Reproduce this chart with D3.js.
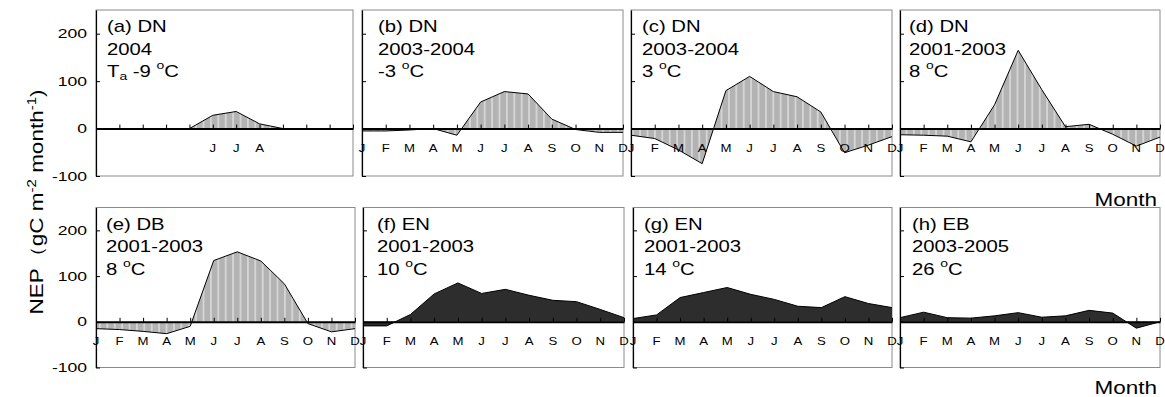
<!DOCTYPE html>
<html><head><meta charset="utf-8">
<script src="https://cdn.jsdelivr.net/npm/d3@7"></script>
<style>
html,body{margin:0;padding:0;background:#fff;}
svg{display:block;font-family:"Liberation Sans",Arial,sans-serif;}
</style>
</head><body>
<svg id="chart" width="1165" height="397"></svg>
<script>
// Monthly NEP for eight forest sites (gC m-2 month-1)
const monthLabels = ["J","F","M","A","M","J","J","A","S","O","N","D"];
const panelCodes = ["(a) DN","(b) DN","(c) DN","(d) DN","(e) DB","(f) EN","(g) EN","(h) EB"];
const panelYears = ["2004","2003-2004","2003-2004","2001-2003","2001-2003","2001-2003","2001-2003","2003-2005"];
const panelTemps = ["-9","-3","3","8","8","10","14","26"];

const nepA = [0, 0, 0, 0, 0, 28, 36, 10, 0, 0, 0, 0];
const nepB = [-5, -5, -3, 0, -14, 56, 78, 73, 20, -2, -8, -8];
const nepC = [-14, -21, -45, -74, 80, 110, 78, 67, 35, -51, -35, -17];
const nepD = [-13, -14, -16, -28, 50, 165, 82, 4, 9, -12, -37, -18];
const nepE = [-15, -17, -21, -26, -10, 134, 153, 133, 83, -4, -22, -15];
const nepF = [-9, -9, 16, 61, 85, 62, 71, 58, 47, 44, 27, 9];
const nepG = [7, 15, 53, 64, 75, 60, 49, 34, 31, 55, 40, 31];
const nepH = [9, 21, 9, 8, 13, 20, 10, 13, 25, 19, -14, 0];
const nepSeries = [nepA, nepB, nepC, nepD, nepE, nepF, nepG, nepH];

// panel (a) only labels the growing-season months
const labelledMonthsA = [5, 6, 7];

const yTicks = [-100, 0, 100, 200];
const yTickLabels = ["-100", "0", "100", "200"];
const yDomain = [-100, 250];

// layout
const colLeft = [[96, 362, 631, 900], [96, 363, 633, 900]];
const colRight = [[353, 623, 892, 1160], [355, 624, 892, 1160]];
const rowTop = [10, 207.5];
const rowBottom = [176, 367.5];
const titleDx = [11, 16, 11, 9, 10, 14, 11, 12];

const svg = d3.select("#chart");
const defs = svg.append("defs");
const pat = defs.append("pattern").attr("id", "stripes")
  .attr("patternUnits", "userSpaceOnUse").attr("width", 7.4).attr("height", 10);
pat.append("rect").attr("width", 7.4).attr("height", 10).attr("fill", "#b3b3b3");
pat.append("line").attr("x1", 3.7).attr("x2", 3.7).attr("y1", 0).attr("y2", 10)
  .attr("stroke", "#e0e0e0").attr("stroke-width", 1.4);

// text widened along its reading direction
function wideText(parent, x, y, sx, size, anchor, rotate) {
  const g = parent.append("g")
    .attr("transform", `translate(${x},${y})` + (rotate ? ` rotate(${rotate})` : "") + ` scale(${sx},1)`);
  return g.append("text").attr("x", 0).attr("y", 0)
    .attr("font-size", size).attr("text-anchor", anchor || "start").attr("fill", "#000");
}

nepSeries.forEach((vals, i) => {
  const row = i < 4 ? 0 : 1, col = i % 4;
  const L = colLeft[row][col], R = colRight[row][col];
  const T = rowTop[row], B = rowBottom[row];
  const g = svg.append("g");

  const x = d3.scalePoint().domain(d3.range(12)).range([L, R]);
  const y = d3.scaleLinear().domain(yDomain).range([B, T]);

  // frame
  g.append("rect").attr("x", L).attr("y", T).attr("width", R - L).attr("height", B - T)
    .attr("fill", "none").attr("stroke", "#8a8a8a").attr("stroke-width", 1);

  const evergreen = panelCodes[i].includes(" E");
  const area = d3.area().x((d, j) => x(j)).y0(y(0)).y1(d => y(d));
  g.append("path").datum(vals).attr("d", area)
    .attr("fill", evergreen ? "#2d2d2d" : "url(#stripes)");
  const line = d3.line().x((d, j) => x(j)).y(d => y(d));
  g.append("path").datum(vals).attr("d", line)
    .attr("fill", "none").attr("stroke", "#000").attr("stroke-width", 1);

  // zero line with month ticks
  const xAxis = g.append("g").attr("transform", `translate(0,${y(0)})`)
    .call(d3.axisTop(x).tickSize(4).tickSizeOuter(0).tickFormat(""));
  xAxis.select(".domain").attr("stroke", "#000").attr("stroke-width", 2);
  xAxis.selectAll(".tick line").attr("stroke", "#000").attr("stroke-width", 1);

  // left axis
  const yAxis = g.append("g").attr("transform", `translate(${L},0)`)
    .call(d3.axisRight(y).tickValues(yTicks).tickSize(4).tickSizeOuter(0).tickFormat(""));
  yAxis.select(".domain").attr("stroke", "#000").attr("stroke-width", 1.2);
  yAxis.selectAll(".tick line").attr("stroke", "#000");

  if (col === 0) {
    yTicks.forEach((t, k) => {
      wideText(g, L - 9, y(t) + 4.5, 1.35, 13, "end").text(yTickLabels[k]);
    });
  }

  // month labels
  const shown = i === 0 ? labelledMonthsA : d3.range(12);
  shown.forEach(j => {
    wideText(g, x(j), y(0) + 23.5, 1.2, 11, "middle").text(monthLabels[j]);
  });

  // panel title
  const tx = L + titleDx[i];
  wideText(g, tx, T + 22, 1.27, 16).text(panelCodes[i]);
  wideText(g, tx, T + 44.5, 1.27, 16).text(panelYears[i]);
  const t3 = wideText(g, tx, T + 67, 1.27, 16);
  if (i === 0) {
    t3.append("tspan").text("T");
    t3.append("tspan").attr("font-size", 11).attr("dy", 3).text("a");
    t3.append("tspan").attr("dy", -3).text(" " + panelTemps[i] + " ");
  } else {
    t3.append("tspan").text(panelTemps[i] + " ");
  }
  t3.append("tspan").attr("font-size", 11).attr("dy", -8).text("o");
  t3.append("tspan").attr("dy", 8).text("C");
});

// axis titles
const yt = wideText(svg, 43, 202, 1.25, 18, "middle", -90);
yt.append("tspan").text("NEP\uFF08gC m");
yt.append("tspan").attr("font-size", 12).attr("dy", -7).text("-2");
yt.append("tspan").attr("dy", 7).text(" month");
yt.append("tspan").attr("font-size", 12).attr("dy", -7).text("-1");
yt.append("tspan").attr("dy", 7).text(")");

wideText(svg, 1157, 206, 1.25, 18, "end").text("Month");
wideText(svg, 1157, 394, 1.25, 18, "end").text("Month");
</script>
</body></html>
